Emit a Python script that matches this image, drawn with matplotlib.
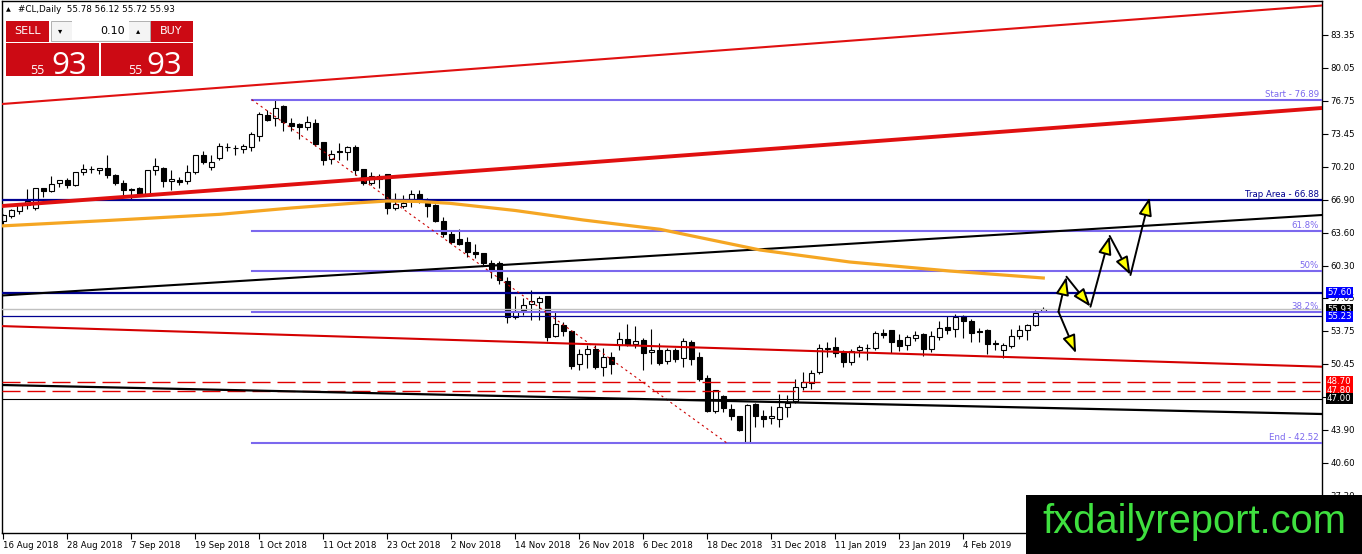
import matplotlib
matplotlib.use('Agg')
import matplotlib.pyplot as plt
from matplotlib.patches import Rectangle, FancyArrowPatch
import numpy as np

# daily candles #CL, 16 Aug 2018 .. mid Feb 2019
opens = [64.78, 65.25, 65.7, 66.35, 66.0, 68.0, 67.7, 68.5, 68.85, 68.35,
         69.6, 69.95, 69.8, 70.0, 69.3, 68.5, 67.9, 68.0, 67.45, 69.85,
         70.1, 68.75, 68.85, 68.75, 69.6, 71.35, 70.1, 71.0, 72.15, 72.1,
         71.9, 72.1, 73.25, 75.35, 75.0, 76.2, 74.6, 74.4, 74.1, 74.6,
         72.6, 70.9, 71.7, 71.6, 72.1, 69.9, 68.5, 69.3, 69.45, 66.0,
         66.2, 66.9, 67.4, 66.6, 66.3, 64.75, 63.5, 62.95, 62.6, 61.65,
         61.5, 60.6, 60.6, 58.7, 55.1, 55.8, 56.4, 56.6, 57.25, 53.25,
         54.4, 53.75, 50.4, 51.4, 52.0, 50.1, 51.2, 52.3, 53.0, 52.4,
         52.85, 51.6, 51.85, 50.7, 51.85, 51.0, 52.7, 51.1, 49.1, 45.7,
         47.25, 46.0, 45.25, 42.6, 46.4, 45.25, 45.0, 44.9, 46.1, 46.7,
         48.1, 48.5, 49.6, 52.1, 52.1, 51.6, 50.6, 51.8, 52.05, 52.0,
         53.6, 53.8, 52.85, 52.3, 53.0, 53.45, 51.9, 53.1, 54.1, 53.95,
         55.2, 54.75, 53.75, 53.85, 52.5, 51.85, 52.25, 53.2, 53.85, 54.35,
         55.78]
highs = [65.5, 66.0, 66.6, 68.0, 68.05, 68.05, 69.25, 68.85, 69.1, 69.7,
         70.45, 70.25, 70.0, 71.35, 69.5, 68.9, 68.1, 68.2, 69.9, 71.1,
         70.2, 69.85, 69.2, 70.35, 71.35, 71.75, 71.35, 72.6, 72.6, 72.35,
         72.5, 73.7, 75.7, 75.85, 76.89, 76.35, 75.1, 74.6, 75.3, 75.0,
         72.65, 71.85, 72.6, 72.25, 72.35, 69.9, 69.7, 69.5, 69.5, 67.6,
         67.35, 67.85, 67.85, 67.1, 66.5, 65.2, 63.85, 64.0, 63.2, 62.5,
         61.6, 60.85, 60.8, 59.2, 57.25, 57.1, 57.85, 57.25, 57.25, 55.8,
         54.65, 53.9, 52.0, 52.35, 52.4, 52.1, 51.7, 53.7, 54.45, 54.25,
         53.1, 54.0, 52.6, 52.1, 52.1, 53.1, 52.85, 51.7, 49.35, 47.85,
         47.35, 46.5, 45.25, 46.5, 46.6, 45.85, 46.25, 47.5, 47.35, 49.0,
         49.7, 49.85, 52.45, 52.7, 53.2, 51.85, 52.0, 52.35, 52.5, 53.75,
         54.0, 53.9, 53.5, 53.35, 53.75, 53.6, 53.75, 54.75, 55.25, 55.45,
         55.35, 55.0, 54.1, 54.0, 52.85, 52.6, 54.0, 54.4, 54.5, 55.85,
         56.12]
lows = [64.5, 65.1, 65.45, 66.0, 65.9, 67.2, 67.7, 68.2, 68.1, 68.3,
        69.35, 69.6, 69.45, 69.1, 68.35, 67.2, 67.0, 67.25, 67.35, 69.35,
        68.2, 67.85, 68.4, 68.5, 69.5, 70.45, 69.85, 70.9, 71.75, 71.4,
        71.6, 71.8, 72.8, 74.8, 74.25, 73.8, 73.8, 73.0, 73.85, 72.25,
        70.35, 70.5, 70.85, 70.9, 69.35, 68.4, 68.4, 68.1, 65.5, 65.9,
        66.1, 66.2, 66.6, 65.2, 64.7, 63.2, 62.45, 62.35, 61.2, 61.1,
        60.35, 59.1, 58.5, 54.6, 54.95, 55.35, 54.9, 54.9, 52.8, 53.2,
        53.3, 50.0, 49.9, 50.1, 50.0, 49.25, 49.5, 51.85, 52.25, 52.1,
        49.9, 50.45, 50.35, 50.45, 50.7, 50.2, 50.35, 48.8, 45.7, 45.6,
        45.7, 44.85, 43.8, 42.52, 44.2, 44.2, 44.5, 44.2, 45.2, 46.6,
        47.85, 48.0, 49.5, 51.2, 51.2, 50.2, 50.35, 51.2, 50.85, 51.85,
        53.1, 51.6, 51.75, 51.9, 52.75, 51.25, 51.7, 52.85, 53.5, 53.2,
        53.1, 52.7, 52.7, 51.5, 51.85, 51.1, 52.1, 53.0, 52.85, 54.25,
        55.72]
closes = [65.35, 65.85, 66.45, 66.7, 68.0, 67.7, 68.4, 68.8, 68.35, 69.6,
          69.9, 69.9, 70.0, 69.3, 68.5, 67.85, 67.8, 67.45, 69.85, 70.25,
          68.7, 68.95, 68.6, 69.65, 71.35, 70.6, 70.6, 72.25, 72.1, 72.0,
          72.2, 73.45, 75.45, 74.85, 76.1, 74.6, 74.2, 74.1, 74.6, 72.45,
          70.8, 71.4, 71.6, 72.1, 69.85, 68.5, 69.2, 68.95, 66.0, 66.4,
          66.5, 67.5, 66.85, 66.2, 64.75, 63.45, 62.6, 62.45, 61.6, 61.4,
          60.5, 59.7, 58.8, 55.1, 55.8, 56.3, 56.75, 57.0, 53.1, 54.4,
          53.75, 50.2, 51.4, 52.0, 50.1, 51.2, 50.4, 52.95, 52.35, 52.75,
          51.5, 51.9, 50.5, 51.85, 50.95, 52.7, 50.9, 48.9, 45.7, 47.85,
          46.0, 45.2, 43.8, 46.4, 45.2, 44.9, 45.25, 46.1, 46.5, 48.1,
          48.6, 49.6, 52.0, 51.95, 51.5, 50.6, 51.8, 52.1, 52.0, 53.6,
          53.3, 52.6, 52.2, 53.1, 53.35, 51.9, 53.2, 54.0, 53.85, 55.1,
          54.75, 53.5, 53.6, 52.4, 52.4, 52.35, 53.2, 53.85, 54.35, 55.5,
          55.93]

date_ticks = [0, 8, 16, 24, 32, 40, 48, 56, 64, 72, 80, 88, 96, 104, 112, 120]
date_labels = ['16 Aug 2018', '28 Aug 2018', '7 Sep 2018', '19 Sep 2018',
               '1 Oct 2018', '11 Oct 2018', '23 Oct 2018', '2 Nov 2018',
               '14 Nov 2018', '26 Nov 2018', '6 Dec 2018', '18 Dec 2018',
               '31 Dec 2018', '11 Jan 2019', '23 Jan 2019', '4 Feb 2019']
price_ticks = [83.35, 80.05, 76.75, 73.45, 70.20, 66.90, 63.60, 60.30,
               57.05, 53.75, 50.45, 47.15, 43.90, 40.60, 37.30]
# 47.15 sits under the price tags on the scale, its text is not shown
price_tick_labels = ['83.35', '80.05', '76.75', '73.45', '70.20', '66.90', '63.60',
                     '60.30', '57.05', '53.75', '50.45', '', '43.90', '40.60', '37.30']

# moving average (orange)
ma_bar = [-0.4, 13.0, 27.1, 36.0, 44.6, 48.0, 52.0, 55.8, 64.0, 72.5, 82.1,
          94.6, 105.8, 118.3, 130.0]
ma_val = [64.25, 64.8, 65.42, 66.05, 66.58, 66.75, 66.7, 66.52, 65.8, 64.85, 63.92,
          61.85, 60.65, 59.75, 59.05]

# trend lines: price at left edge and at right edge of the chart
trend_left = [76.45, 66.25, 57.3, 54.24, 48.35]
trend_right = [86.3, 76.05, 65.35, 50.18, 45.45]
trend_color = ['#e01010', '#e01010', 'black', '#d40000', 'black']
trend_width = [1.5, 2.8, 1.5, 1.5, 1.6]

# fibonacci retracement
fib_start, fib_end = 76.89, 42.52
fib_levels = [0.0, 0.382, 0.5, 0.618, 1.0]
fib_texts = ['End - 42.52', '38.2%', '50%', '61.8%', 'Start - 76.89']
fib_from_bar = 31.05
fib_diag_end_bar = 90.5

trap_level = 66.88
blue_level = 57.60
blue_thin_level = 55.23
bid = 55.93
red_dashed = [48.70, 47.80]
black_level = 47.00

# projected path (arrows)
path_x = [131.9, 132.9, 135.9, 138.3, 140.9, 143.3]
path_y = [55.68, 59.18, 56.18, 63.25, 59.35, 67.12]
down_x = [131.9, 134.1]
down_y = [55.68, 51.52]

W, H = 1362, 554
fig = plt.figure(figsize=(W / 100, H / 100), dpi=100)
ax = fig.add_axes([2 / W, 21 / H, 1320 / W, 532 / H])
x0, x1 = -0.1625, 164.84
ax.set_xlim(x0, x1)
ax.set_ylim(33.55, 86.75)

o = np.array(opens); h = np.array(highs); l = np.array(lows); c = np.array(closes)
xb = np.arange(len(o))
up = c >= o
ax.vlines(xb, l, h, color='black', lw=0.8, zorder=2)
bot = np.minimum(o, c)
hgt = np.maximum(np.abs(c - o), 0.04)
ax.bar(xb[up], hgt[up], 0.62, bottom=bot[up], color='white', edgecolor='black', lw=0.8, zorder=2.1)
ax.bar(xb[~up], hgt[~up], 0.62, bottom=bot[~up], color='black', edgecolor='black', lw=0.8, zorder=2.1)

# horizontal levels
ax.axhline(bid, color='#c0c0c0', lw=1, zorder=3)
for lv in red_dashed:
    ax.axhline(lv, color='#e00000', lw=1, dashes=(13, 5), zorder=3)
ax.axhline(black_level, color='black', lw=0.8, zorder=3)
ax.axhline(trap_level, color='#000090', lw=1.6, zorder=3.2)
ax.axhline(blue_level, color='#000090', lw=1.6, zorder=3.2)
ax.axhline(blue_thin_level, color='#000090', lw=0.9, zorder=3.2)

# fibo
rng = fib_start - fib_end
for lv, txt in zip(fib_levels, fib_texts):
    p = fib_end + lv * rng
    ax.plot([fib_from_bar, x1], [p, p], color='#7b68ee', lw=1.5, zorder=3.1)
    ax.annotate(txt, xy=(1, p), xycoords=ax.get_yaxis_transform(), xytext=(-3, 1),
                textcoords='offset pixels', ha='right', va='bottom', fontsize=6.2,
                color='#7b68ee', zorder=5)
ax.plot([fib_from_bar, fib_diag_end_bar], [fib_start, fib_end], color='#cc0000',
        lw=0.8, linestyle=(0, (2, 3)), zorder=3.3)
ax.annotate('Trap Area - 66.88', xy=(1, trap_level), xycoords=ax.get_yaxis_transform(),
            xytext=(-3, 1), textcoords='offset pixels', ha='right', va='bottom',
            fontsize=6.2, color='#000090', zorder=5)

# trend lines and MA
for lp, rp, col, lw in zip(trend_left, trend_right, trend_color, trend_width):
    ax.plot([x0, x1], [lp, rp], color=col, lw=lw, zorder=3.4)
ax.plot(ma_bar, ma_val, color='#f5a623', lw=2.3, zorder=3.5)

# arrows
def arrow(a, b):
    ax.add_patch(FancyArrowPatch(a, b, arrowstyle='-|>,head_length=11,head_width=4',
                                 mutation_scale=1, fc='#ffff00', ec='black', lw=1.4,
                                 shrinkA=0, shrinkB=0, zorder=4))

for i in range(len(path_x) - 1):
    arrow((path_x[i], path_y[i]), (path_x[i + 1], path_y[i + 1]))
arrow((down_x[0], down_y[0]), (down_x[1], down_y[1]))

# axes
ax.yaxis.tick_right()
ax.set_yticks(price_ticks)
ax.set_yticklabels(price_tick_labels)
ax.set_xticks(date_ticks)
ax.set_xticklabels(date_labels)
for lab in ax.get_xticklabels():
    lab.set_ha('left')
ax.tick_params(axis='both', direction='out', length=4, width=0.8, pad=2,
               labelsize=6.2, colors='black')
for s in ax.spines.values():
    s.set_color('black')
    s.set_linewidth(1)

# price tags on the right scale
tags = [(blue_level, '#0000ff', 'white'), (bid, 'black', 'white'),
        (blue_thin_level, '#0000ff', 'white'), (red_dashed[0], '#ff0000', 'white'),
        (red_dashed[1], '#ff0000', 'white'), (black_level, 'black', 'white')]
for p, bg, fg in tags:
    ax.annotate('%.2f' % p, xy=(1, p), xycoords=ax.get_yaxis_transform(), xytext=(5, 0),
                textcoords='offset pixels', ha='left', va='center', fontsize=6.2, color=fg,
                annotation_clip=False, zorder=6,
                bbox=dict(boxstyle='square,pad=0.12', fc=bg, ec='none'))

# overlay in pixel coords: trade panel + logo
ov = fig.add_axes([0, 0, 1, 1])
ov.set_xlim(0, W)
ov.set_ylim(H, 0)
ov.axis('off')
ov.patch.set_alpha(0)

ov.text(6, 10, '\u25b2', fontsize=4.5, va='center')
ov.text(18, 10, '#CL,Daily  55.78 56.12 55.72 55.93', fontsize=6.3, va='center')
red = '#cc0a14'
ov.add_patch(Rectangle((6, 20.5), 43, 21, fc=red, ec='none'))
ov.text(27.5, 31, 'SELL', color='white', fontsize=8, ha='center', va='center')
ov.add_patch(Rectangle((150, 20.5), 42.7, 21, fc=red, ec='none'))
ov.text(171, 31, 'BUY', color='white', fontsize=8, ha='center', va='center')
ov.add_patch(Rectangle((50.5, 20.5), 99, 20, fc='#f4f4f4', ec='#b0b0b0', lw=0.7))
ov.add_patch(Rectangle((72, 21), 57, 19, fc='white', ec='none'))
ov.text(60, 31, '\u25be', fontsize=6, ha='center', va='center')
ov.text(138, 31, '\u25b4', fontsize=6, ha='center', va='center')
ov.text(125, 31, '0.10', fontsize=8, ha='right', va='center')
ov.add_patch(Rectangle((6, 42.5), 93, 33.5, fc=red, ec='none'))
ov.add_patch(Rectangle((100.7, 42.5), 92, 33.5, fc=red, ec='none'))
for xs, xb_ in [(44, 51), (142, 146)]:
    ov.text(xs, 74, '55', color='white', fontsize=9, ha='right', va='baseline', family='Open Sans')
    ov.text(xb_, 74, '93', color='white', fontsize=22.5, ha='left', va='baseline', family='Open Sans')

ov.add_patch(Rectangle((1026, 495), W - 1026, H - 495, fc='black', ec='none'))
ov.text(1042, 533, 'fxdailyreport.com', color='#3fe03f', fontsize=28.7,
        family='Liberation Sans', va='baseline', ha='left')

fig.savefig('out.png', dpi=100)
